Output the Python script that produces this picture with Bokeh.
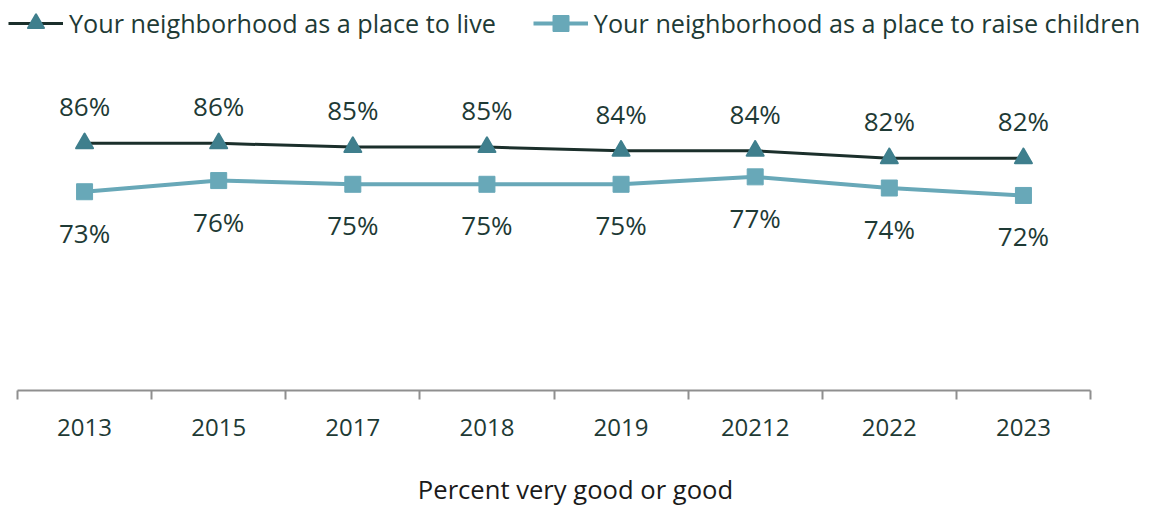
import numpy as np
from bokeh.plotting import figure
from bokeh.models import Range1d, FixedTicker, Legend, LegendItem, Label
from bokeh.core.properties import value
from bokeh.embed import file_html
from bokeh.resources import INLINE

# ---- data ----
years = ["2013", "2015", "2017", "2018", "2019", "20212", "2022", "2023"]
live = [86, 86, 85, 85, 84, 84, 82, 82]
children = [73, 76, 75, 75, 75, 77, 74, 72]
series_names = ["Your neighborhood as a place to live",
                "Your neighborhood as a place to raise children"]
x_title = "Percent very good or good"

# ---- style ----
FONT = "Open Sans"
TEXT = "#1e3a35"
C1_LINE = "#1b2f2b"
C1_MARK = "#3f7f8d"
C2 = "#68a8b8"
AXIS = "#8f8f8f"

S1_LINE = dict(line_color=C1_LINE, line_width=3)
S1_MARK = dict(marker="triangle", size=17, fill_color=C1_MARK, line_color=C1_MARK,
               line_width=2, line_join="round")
S2_LINE = dict(line_color=C2, line_width=4)
S2_MARK = dict(marker="square", size=16, fill_color=C2, line_color=C2, line_width=1)

xs = np.arange(len(years)) + 0.5


def strip(h):
    f = figure(width=1150, height=h, output_backend="svg", toolbar_location=None,
               x_range=Range1d(0, 1150), y_range=Range1d(0, h),
               min_border=0, min_border_left=0, min_border_right=0,
               min_border_top=0, min_border_bottom=0,
               x_axis_location=None, y_axis_location=None)
    f.xgrid.visible = False
    f.ygrid.visible = False
    f.outline_line_color = None
    return f


# ---- legend strip ----
top = strip(50)
nan = [np.nan]
l1 = top.line(nan, nan, **S1_LINE)
m1 = top.scatter(nan, nan, **S1_MARK)
l2 = top.line(nan, nan, **S2_LINE)
m2 = top.scatter(nan, nan, **S2_MARK)
legend = Legend(items=[LegendItem(label=series_names[0], renderers=[l1, m1]),
                       LegendItem(label=series_names[1], renderers=[l2, m2])],
                orientation="horizontal", location=(8, 7),
                glyph_width=55, glyph_height=40, label_standoff=6, spacing=37,
                padding=0, margin=0, border_line_color=None,
                background_fill_alpha=0,
                label_text_font=FONT, label_text_font_size="25.2px",
                label_text_color=TEXT)
top.add_layout(legend)

# ---- main chart ----
p = figure(width=1150, height=405, output_backend="svg", toolbar_location=None,
           x_range=Range1d(0, len(years)), y_range=Range1d(19.6, 100.2),
           min_border_left=17, min_border_right=60, min_border_top=40,
           min_border_bottom=65, y_axis_location=None)
p.xgrid.visible = False
p.ygrid.visible = False
p.outline_line_color = None

p.line(xs, live, **S1_LINE)
p.scatter(xs, live, **S1_MARK)
p.line(xs, children, **S2_LINE)
p.scatter(xs, children, **S2_MARK)

p.text(xs, live, text=[f"{v}%" for v in live], y_offset=-37,
       text_align="center", text_baseline="alphabetic",
       text_font=value(FONT), text_font_size="26px", text_color=TEXT)
p.text(xs, children, text=[f"{v}%" for v in children], y_offset=41,
       text_align="center", text_baseline="alphabetic",
       text_font=value(FONT), text_font_size="26px", text_color=TEXT)

ax = p.xaxis[0]
ax.ticker = FixedTicker(ticks=list(xs), minor_ticks=list(range(len(years) + 1)))
ax.major_label_overrides = {float(x): y for x, y in zip(xs, years)}
ax.major_tick_line_color = None
ax.major_tick_in = 0
ax.major_tick_out = 0
ax.minor_tick_in = 0
ax.minor_tick_out = 9
ax.minor_tick_line_color = AXIS
ax.minor_tick_line_width = 2
ax.axis_line_color = AXIS
ax.axis_line_width = 2
ax.major_label_standoff = 19
ax.major_label_text_font = FONT
ax.major_label_text_font_size = "24px"
ax.major_label_text_color = TEXT

# ---- x title strip ----
bottom = strip(53)
bottom.add_layout(Label(x=575, y=19, text=x_title, text_align="center",
                        text_baseline="alphabetic", text_font=FONT,
                        text_font_size="25.6px", text_color="#1a1a1a"))

open("out.html", "w").write(file_html([top, p, bottom], INLINE))
